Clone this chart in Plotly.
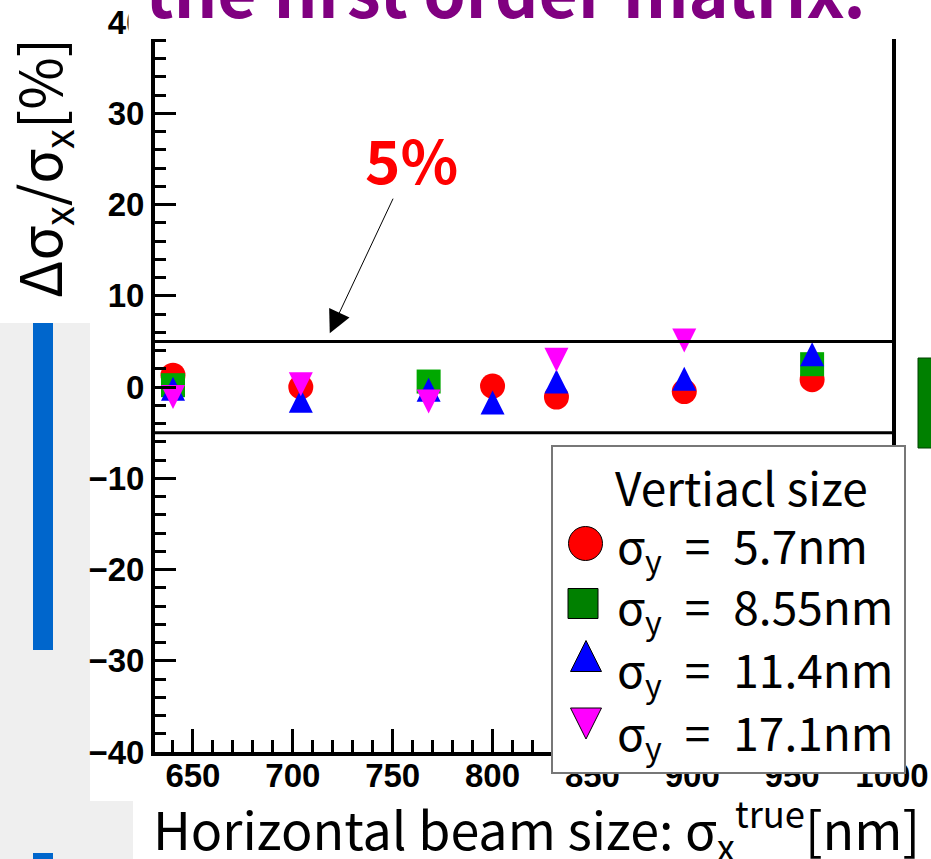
import plotly.graph_objects as go

# ---- data: relative error of the reconstructed horizontal size [%] ----
sigx_red = [640, 704, 800, 832, 896, 960]
dev_red = [1.3, 0.0, 0.1, -1.1, -0.5, 0.8]

sigx_green = [640, 768, 960]
dev_green = [0.2, 0.6, 2.5]

sigx_blue = [640, 704, 768, 800, 832, 896, 960]
dev_blue = [-0.2, -1.5, -0.3, -1.7, 0.6, 0.9, 3.6]

sigx_magenta = [640, 704, 768, 832, 896]
dev_magenta = [-1.1, 0.3, -1.6, 3.0, 5.1]

series_labels = [
    "σ<sub>y</sub>\u2002=\u20025.7nm",
    "σ<sub>y</sub>\u2002=\u20028.55nm",
    "σ<sub>y</sub>\u2002=\u200211.4nm",
    "σ<sub>y</sub>\u2002=\u200217.1nm",
]
legend_title = "Vertiacl size"
band_levels = [5, -5]
x_range = [631, 1000]
y_range = [-40, 40]

# ---- page geometry (pixels) ----
W, H = 931, 859
ML, MR, MT, MB = 155, 27, 22, 87
PW, PH = W - ML - MR, H - MT - MB


def fx(x):
    return (x - ML) / PW


def fy(y):
    return (H - MB - y) / PH


fig = go.Figure()

TRI = 24
marker_specs = [
    (sigx_red, dev_red, "#ff0000", "circle", 0, 0, 25),
    (sigx_green, dev_green, "#00a800", "square", 0, 0, 24),
    (sigx_blue, dev_blue, "#0000ff", "arrow-down", 180, TRI / 2, TRI),
    (sigx_magenta, dev_magenta, "#ff00ff", "arrow-down", 0, TRI / 2, TRI),
]
for (xs, ys, col, sym, ang, so, sz), name in zip(marker_specs, series_labels):
    fig.add_trace(go.Scatter(
        x=xs, y=ys, mode="markers", name=name, showlegend=False,
        marker=dict(symbol=sym, angle=ang, standoff=so, size=sz, color=col,
                    line=dict(width=0)),
        xaxis="x", yaxis="y",
    ))

# +-5 % band
for lvl in band_levels:
    fig.add_trace(go.Scatter(
        x=x_range, y=[lvl, lvl], mode="lines", showlegend=False,
        line=dict(color="black", width=3), xaxis="x", yaxis="y",
    ))

# legend swatches drawn on a small pixel-scaled subplot
LEG = [(585.5, 543.5, "#ff0000", "circle", 0, 0, 34),
       (583, 603.5, "#008000", "square", 0, 0, 30),
       (586, 656, "#0000ff", "arrow-down", 180, 15.5, 31),
       (586, 723.5, "#ff00ff", "arrow-down", 0, 15.5, 31)]
for lx, ly, col, sym, ang, so, sz in LEG:
    fig.add_trace(go.Scatter(
        x=[lx], y=[ly], mode="markers", showlegend=False,
        marker=dict(symbol=sym, angle=ang, standoff=so, size=sz, color=col,
                    line=dict(width=1, color="black")),
        xaxis="x2", yaxis="y2",
    ))

tickfont = dict(family="Liberation Sans", size=33, color="black", weight="bold")
axis_common = dict(
    showline=True, linewidth=4, linecolor="black", mirror=True,
    ticks="inside", tickcolor="black", tickfont=tickfont,
    showgrid=False, zeroline=False, fixedrange=True,
)
fig.update_layout(
    width=W, height=H,
    margin=dict(l=ML, r=MR, t=MT, b=MB, autoexpand=False),
    paper_bgcolor="white", plot_bgcolor="white",
    showlegend=False,
    xaxis=dict(domain=[0, fx(892)], range=x_range, anchor="y",
               tick0=650, dtick=50, ticklen=23, tickwidth=3,
               ticklabelstandoff=-9,
               minor=dict(ticks="inside", dtick=10, ticklen=12, tickwidth=2.5,
                          tickcolor="black"),
               **axis_common),
    yaxis=dict(domain=[fy(752), 1], range=y_range, anchor="x",
               tick0=0, dtick=10, ticklen=21, tickwidth=3,
               minor=dict(ticks="inside", dtick=2, ticklen=11, tickwidth=2.5,
                          tickcolor="black"),
               **axis_common),
    xaxis2=dict(domain=[fx(553), 1], range=[553, 904], anchor="y2",
                showline=True, mirror=True, linecolor="#777777", linewidth=1.5,
                showticklabels=False, ticks="", showgrid=False, zeroline=False,
                fixedrange=True),
    yaxis2=dict(domain=[0, fy(447)], range=[772, 447], anchor="x2",
                showline=True, mirror=True, linecolor="#777777", linewidth=1.5,
                showticklabels=False, ticks="", showgrid=False, zeroline=False,
                fixedrange=True),
)

jp = "Noto Sans CJK JP"
shapes = [
    # slide background panels
    dict(type="rect", xref="paper", yref="paper", x0=fx(0), x1=fx(90),
         y0=fy(323), y1=fy(H), fillcolor="#efefef", line_width=0, layer="below"),
    dict(type="rect", xref="paper", yref="paper", x0=fx(0), x1=fx(133),
         y0=fy(801), y1=fy(H), fillcolor="#efefef", line_width=0, layer="below"),
    dict(type="rect", xref="paper", yref="paper", x0=fx(33), x1=fx(53),
         y0=fy(323), y1=fy(650), fillcolor="#0066cc", line_width=0, layer="below"),
    dict(type="rect", xref="paper", yref="paper", x0=fx(33), x1=fx(53),
         y0=fy(853), y1=fy(H + 2), fillcolor="#0066cc", line_width=0, layer="below"),
    dict(type="rect", xref="paper", yref="paper", x0=fx(918), x1=fx(933),
         y0=fy(358), y1=fy(448), fillcolor="#008000",
         line=dict(color="#004000", width=1), layer="below"),
    # title strip
    dict(type="rect", xref="paper", yref="paper", x0=fx(128.5), x1=fx(W + 2),
         y0=fy(39), y1=fy(-2), fillcolor="white", line_width=0, layer="above"),
]
fig.update_layout(shapes=shapes)

ann = [
    # slide title (upper part cropped)
    dict(text="the first order matrix.", xref="paper", yref="paper",
         x=fx(143), y=fy(-11), xanchor="left", yanchor="middle", showarrow=False,
         font=dict(family=jp, size=68, color="#800080", weight="bold")),
    # axis titles
    dict(text="Δσ<sub>x</sub>/σ<sub>x</sub>[%]", xref="paper", yref="paper",
         x=fx(40), y=fy(168), xanchor="center", yanchor="middle",
         textangle=-90, showarrow=False,
         font=dict(family=jp, size=57, color="black")),
    dict(text="Horizontal beam size: σ<sub>x</sub><sup>true</sup>[nm]",
         xref="paper", yref="paper", x=fx(536), y=fy(828),
         xanchor="center", yanchor="middle", showarrow=False,
         font=dict(family=jp, size=52, color="black")),
    # 5 % marker
    dict(text="5%", xref="x", yref="y", x=759.5, y=25.2, showarrow=False,
         font=dict(family=jp, size=60, color="#ff0000", weight="bold")),
    dict(text="", xref="x", yref="y", x=718.5, y=5.9, ax=64, ay=-136,
         showarrow=True, arrowhead=2, arrowsize=4.5, arrowwidth=1,
         arrowcolor="black"),
    # legend text
    dict(text=legend_title, xref="x2", yref="y2", x=741, y=486,
         xanchor="center", yanchor="middle", showarrow=False,
         font=dict(family=jp, size=46, color="black")),
]
for lab, ty in zip(series_labels, [547, 608, 671, 734]):
    ann.append(dict(text=lab, xref="x2", yref="y2", x=615, y=ty,
                    xanchor="left", yanchor="middle", showarrow=False,
                    font=dict(family=jp, size=46, color="black")))
fig.update_layout(annotations=ann)

fig.write_html("out.html")
